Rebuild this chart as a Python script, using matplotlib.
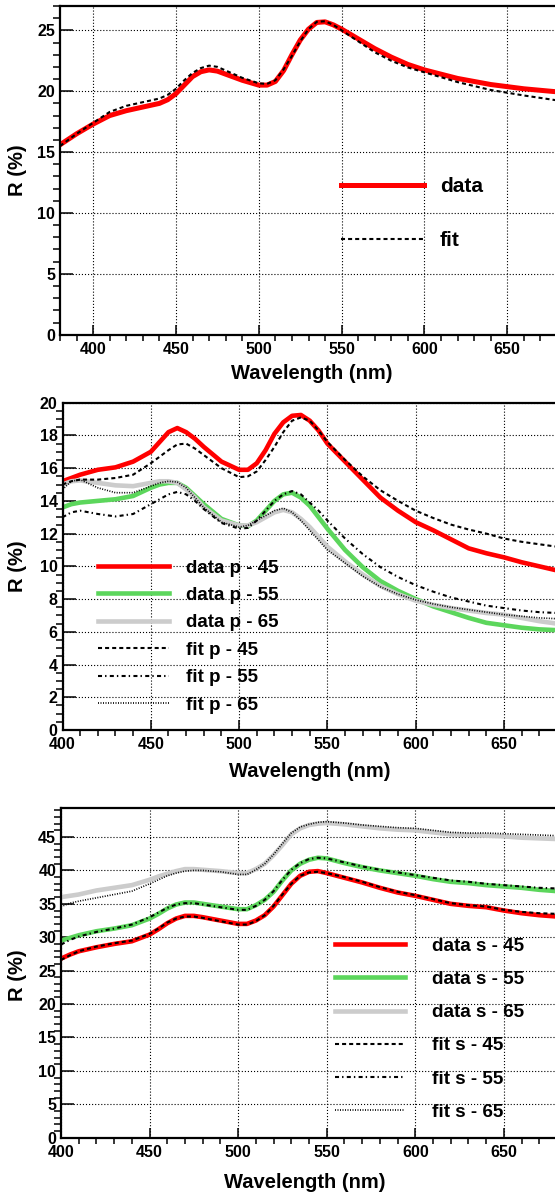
import matplotlib.pyplot as plt
from matplotlib.ticker import MultipleLocator

plt.rcParams['font.family'] = ['Liberation Sans', 'DejaVu Sans']
plt.rcParams['font.weight'] = 'bold'
plt.rcParams['lines.scale_dashes'] = False

# ---- data ----
# top panel
wl_top = [380, 390, 400, 410, 420, 430, 440, 445, 450, 455, 460, 465, 470, 475, 480, 490, 500, 505,
          510, 515, 520, 525, 530, 535, 540, 545, 550, 560, 570, 580, 590, 600, 620, 640, 660, 680]
r_data = [15.6, 16.5, 17.3, 18.0, 18.4, 18.7, 19.0, 19.3, 19.8, 20.5, 21.2, 21.6, 21.75, 21.65, 21.4, 20.9, 20.5, 20.5,
          20.8, 21.7, 23.0, 24.2, 25.1, 25.65, 25.7, 25.45, 25.1, 24.3, 23.5, 22.8, 22.2, 21.75, 21.05, 20.55, 20.2, 19.95]
r_fit = [15.5, 16.5, 17.4, 18.3, 18.8, 19.1, 19.4, 19.7, 20.2, 20.9, 21.5, 21.9, 22.1, 22.0, 21.7, 21.1, 20.65, 20.6,
         20.9, 21.8, 22.9, 24.1, 25.1, 25.7, 25.75, 25.45, 25.0, 24.1, 23.2, 22.5, 21.95, 21.55, 20.75, 20.1, 19.65, 19.25]

# middle + bottom panels share this grid
wl = [400, 405, 410, 420, 430, 440, 450, 455, 460, 465, 470, 475, 480, 490, 500, 505, 510, 515, 520,
      525, 530, 535, 540, 545, 550, 560, 570, 580, 590, 600, 610, 620, 630, 640, 650, 660, 670, 680]

p45_data = [15.2, 15.4, 15.6, 15.9, 16.05, 16.4, 17.0, 17.6, 18.2, 18.45, 18.2, 17.8, 17.3, 16.4, 15.9, 15.9, 16.3, 17.1, 18.1,
            18.8, 19.2, 19.25, 18.9, 18.3, 17.5, 16.4, 15.3, 14.2, 13.4, 12.7, 12.2, 11.65, 11.1, 10.8, 10.55, 10.25, 10.0, 9.75]
p55_data = [13.6, 13.8, 13.9, 14.0, 14.1, 14.3, 14.8, 15.0, 15.1, 15.1, 14.8, 14.3, 13.8, 12.9, 12.5, 12.45, 12.8, 13.4, 14.0,
            14.4, 14.5, 14.2, 13.7, 13.0, 12.3, 11.0, 9.95, 9.1, 8.5, 8.0, 7.55, 7.2, 6.85, 6.55, 6.4, 6.25, 6.15, 6.1]
p65_data = [15.0, 15.2, 15.25, 15.1, 14.95, 14.9, 15.1, 15.2, 15.2, 15.1, 14.7, 14.2, 13.6, 12.8, 12.5, 12.5, 12.7, 13.0, 13.3,
            13.45, 13.3, 12.9, 12.4, 11.8, 11.2, 10.3, 9.5, 8.8, 8.3, 7.9, 7.65, 7.45, 7.3, 7.15, 7.05, 6.85, 6.65, 6.5]
p45_fit = [15.0, 15.2, 15.3, 15.3, 15.4, 15.6, 16.3, 16.7, 17.1, 17.45, 17.5, 17.2, 16.8, 16.0, 15.45, 15.5, 15.8, 16.5, 17.3,
           18.2, 18.9, 19.1, 18.9, 18.3, 17.6, 16.5, 15.5, 14.65, 14.0, 13.4, 12.95, 12.55, 12.25, 12.0, 11.7, 11.5, 11.35, 11.2]
p55_fit = [13.0, 13.3, 13.4, 13.2, 13.05, 13.2, 13.8, 14.1, 14.4, 14.55, 14.4, 14.0, 13.5, 12.65, 12.3, 12.35, 12.8, 13.4, 14.0,
           14.4, 14.6, 14.4, 13.9, 13.4, 12.8, 11.7, 10.75, 9.95, 9.35, 8.85, 8.45, 8.1, 7.85, 7.6, 7.45, 7.3, 7.2, 7.15]
p65_fit = [14.7, 15.2, 15.3, 14.8, 14.5, 14.5, 14.9, 15.1, 15.2, 15.15, 14.8, 14.2, 13.6, 12.7, 12.4, 12.5, 12.8, 13.1, 13.4,
           13.55, 13.3, 12.8, 12.2, 11.6, 11.0, 10.2, 9.4, 8.75, 8.3, 7.95, 7.7, 7.5, 7.35, 7.2, 7.05, 6.95, 6.85, 6.8]

s45_data = [26.8, 27.4, 27.9, 28.5, 29.0, 29.4, 30.4, 31.2, 32.1, 32.8, 33.2, 33.2, 33.0, 32.5, 32.0, 32.0, 32.5, 33.3, 34.6,
            36.3, 38.0, 39.2, 39.8, 39.9, 39.6, 38.9, 38.2, 37.4, 36.7, 36.2, 35.6, 35.0, 34.7, 34.5, 34.0, 33.6, 33.3, 33.1]
s55_data = [29.5, 29.9, 30.3, 30.9, 31.3, 31.8, 32.8, 33.5, 34.3, 34.9, 35.2, 35.2, 35.0, 34.6, 34.2, 34.2, 34.8, 35.6, 36.8,
            38.5, 40.0, 41.0, 41.6, 41.9, 41.8, 41.1, 40.5, 40.0, 39.6, 39.2, 38.7, 38.3, 38.1, 37.8, 37.6, 37.4, 37.1, 36.9]
s65_data = [36.0, 36.2, 36.4, 37.0, 37.4, 37.8, 38.6, 39.1, 39.5, 39.9, 40.2, 40.2, 40.1, 39.9, 39.6, 39.6, 40.2, 41.0, 42.3,
            43.8, 45.4, 46.3, 46.8, 47.0, 47.1, 46.9, 46.6, 46.3, 46.1, 46.0, 45.7, 45.4, 45.3, 45.2, 45.1, 44.9, 44.8, 44.7]
s45_fit = [26.6, 27.3, 27.9, 28.6, 29.1, 29.5, 30.5, 31.3, 32.2, 32.8, 33.1, 33.1, 32.9, 32.4, 31.9, 31.9, 32.4, 33.3, 34.7,
           36.4, 38.0, 39.2, 39.7, 39.8, 39.6, 39.0, 38.3, 37.5, 36.8, 36.3, 35.7, 35.1, 34.8, 34.6, 34.1, 33.8, 33.6, 33.5]
s55_fit = [28.9, 29.6, 30.1, 30.8, 31.3, 31.9, 33.0, 33.7, 34.4, 34.9, 35.1, 35.1, 34.9, 34.5, 34.1, 34.1, 34.7, 35.6, 36.9,
           38.6, 40.1, 41.1, 41.7, 41.9, 41.8, 41.2, 40.6, 40.1, 39.7, 39.3, 38.9, 38.5, 38.3, 38.0, 37.8, 37.6, 37.4, 37.3]
s65_fit = [34.6, 35.1, 35.4, 35.9, 36.4, 36.9, 38.0, 38.6, 39.2, 39.6, 39.9, 40.0, 40.0, 39.8, 39.4, 39.4, 40.1, 41.0, 42.4,
           44.0, 45.6, 46.5, 46.9, 47.2, 47.3, 47.1, 46.8, 46.6, 46.4, 46.3, 46.0, 45.7, 45.6, 45.6, 45.5, 45.4, 45.3, 45.2]

RED, GREEN, GRAY = '#ff0000', '#5cd65c', '#cccccc'
DASH = (0, (2.9, 2.2))
DASHDOT = (0, (2.9, 2.2, 1.0, 2.4))
FINE = (0, (0.72, 1.08))

W, H = 555, 1195
fig = plt.figure(figsize=(W / 100, H / 100), dpi=100)


def make_axes(left, top, bottom):
    ax = fig.add_axes([left / W, 1 - bottom / H, (557 - left) / W, (bottom - top) / H])
    return ax


def style(ax, xlim, ylim, ymaj, ymin):
    ax.set_xlim(*xlim)
    ax.set_ylim(*ylim)
    ax.xaxis.set_major_locator(MultipleLocator(50))
    ax.xaxis.set_minor_locator(MultipleLocator(10))
    ax.yaxis.set_major_locator(MultipleLocator(ymaj))
    ax.yaxis.set_minor_locator(MultipleLocator(ymin))
    ax.tick_params(direction='in', labelsize=11.5, width=1.1)
    ax.tick_params(axis='x', which='major', length=7.5, pad=5)
    ax.tick_params(axis='x', which='minor', length=4, width=1.1)
    ax.tick_params(axis='y', which='major', length=9, pad=3.5)
    ax.tick_params(axis='y', which='minor', length=5, width=1.1)
    ax.spines['right'].set_visible(False)
    for s in ['left', 'top', 'bottom']:
        ax.spines[s].set_linewidth(1.6)
    ax.grid(True, which='major', color='black', lw=0.8, linestyle=(0, (0.8, 1.4)))
    ax.set_axisbelow(True)
    for t in ax.get_xticklabels() + ax.get_yticklabels():
        t.set_fontweight('bold')


def labels(ycenter, xlab_x, xlab_y):
    fig.text(17.7 / W, 1 - ycenter / H, 'R (%)', rotation=90, ha='center', va='center',
             fontsize=14.5, fontweight='bold')
    fig.text(xlab_x / W, 1 - xlab_y / H, 'Wavelength (nm)', ha='center', va='center',
             fontsize=14.5, fontweight='bold')


def legend(ax, x, y_first, fs, hl, tp, ls):
    ax.legend(loc='upper left', bbox_to_anchor=(x / W, 1 - (y_first - 0.56 * fs * 100 / 72) / H),
              bbox_transform=fig.transFigure, frameon=False, borderpad=0, borderaxespad=0,
              handlelength=hl, handletextpad=tp, labelspacing=ls, prop={'weight': 'bold', 'size': fs})


# ---- top ----
ax1 = make_axes(60, 6, 334.7)
ax1.plot(wl_top, r_data, color=RED, lw=3.6, label='data')
ax1.plot(wl_top, r_fit, color='black', lw=1.5, linestyle=DASH, label='fit')
style(ax1, (380, 680), (0, 27), 5, 1)
labels(170, 312, 373.5)
legend(ax1, 341, 189, 15, 4.0, 0.75, 1.68)

# ---- middle ----
ax2 = make_axes(62.5, 402.7, 730)
ax2.plot(wl, p45_data, color=RED, lw=3.3, label='data p - 45')
ax2.plot(wl, p55_data, color=GREEN, lw=3.3, label='data p - 55')
ax2.plot(wl, p65_data, color=GRAY, lw=3.3, label='data p - 65')
ax2.plot(wl, p45_fit, color='black', lw=1.5, linestyle=DASH, label='fit p - 45')
ax2.plot(wl, p55_fit, color='black', lw=1.5, linestyle=DASHDOT, label='fit p - 55')
ax2.plot(wl, p65_fit, color='black', lw=1.2, linestyle=FINE, label='fit p - 65')
style(ax2, (400, 680), (0, 20), 2, 0.5)
labels(566, 310, 771.7)
legend(ax2, 98.3, 570, 13.5, 3.77, 0.9, 0.55)

# ---- bottom ----
ax3 = make_axes(61, 808.3, 1137.7)
ax3.plot(wl, s45_data, color=RED, lw=3.3, label='data s - 45')
ax3.plot(wl, s55_data, color=GREEN, lw=3.3, label='data s - 55')
ax3.plot(wl, s65_data, color=GRAY, lw=3.3, label='data s - 65')
ax3.plot(wl, s45_fit, color='black', lw=1.5, linestyle=DASH, label='fit s - 45')
ax3.plot(wl, s55_fit, color='black', lw=1.5, linestyle=DASHDOT, label='fit s - 55')
ax3.plot(wl, s65_fit, color='black', lw=1.2, linestyle=FINE, label='fit s - 65')
style(ax3, (400, 680), (0, 49.3), 5, 1)
labels(975, 305, 1183)
legend(ax3, 335, 948, 13.6, 3.73, 1.4, 0.85)

fig.savefig('out.png', dpi=100)
